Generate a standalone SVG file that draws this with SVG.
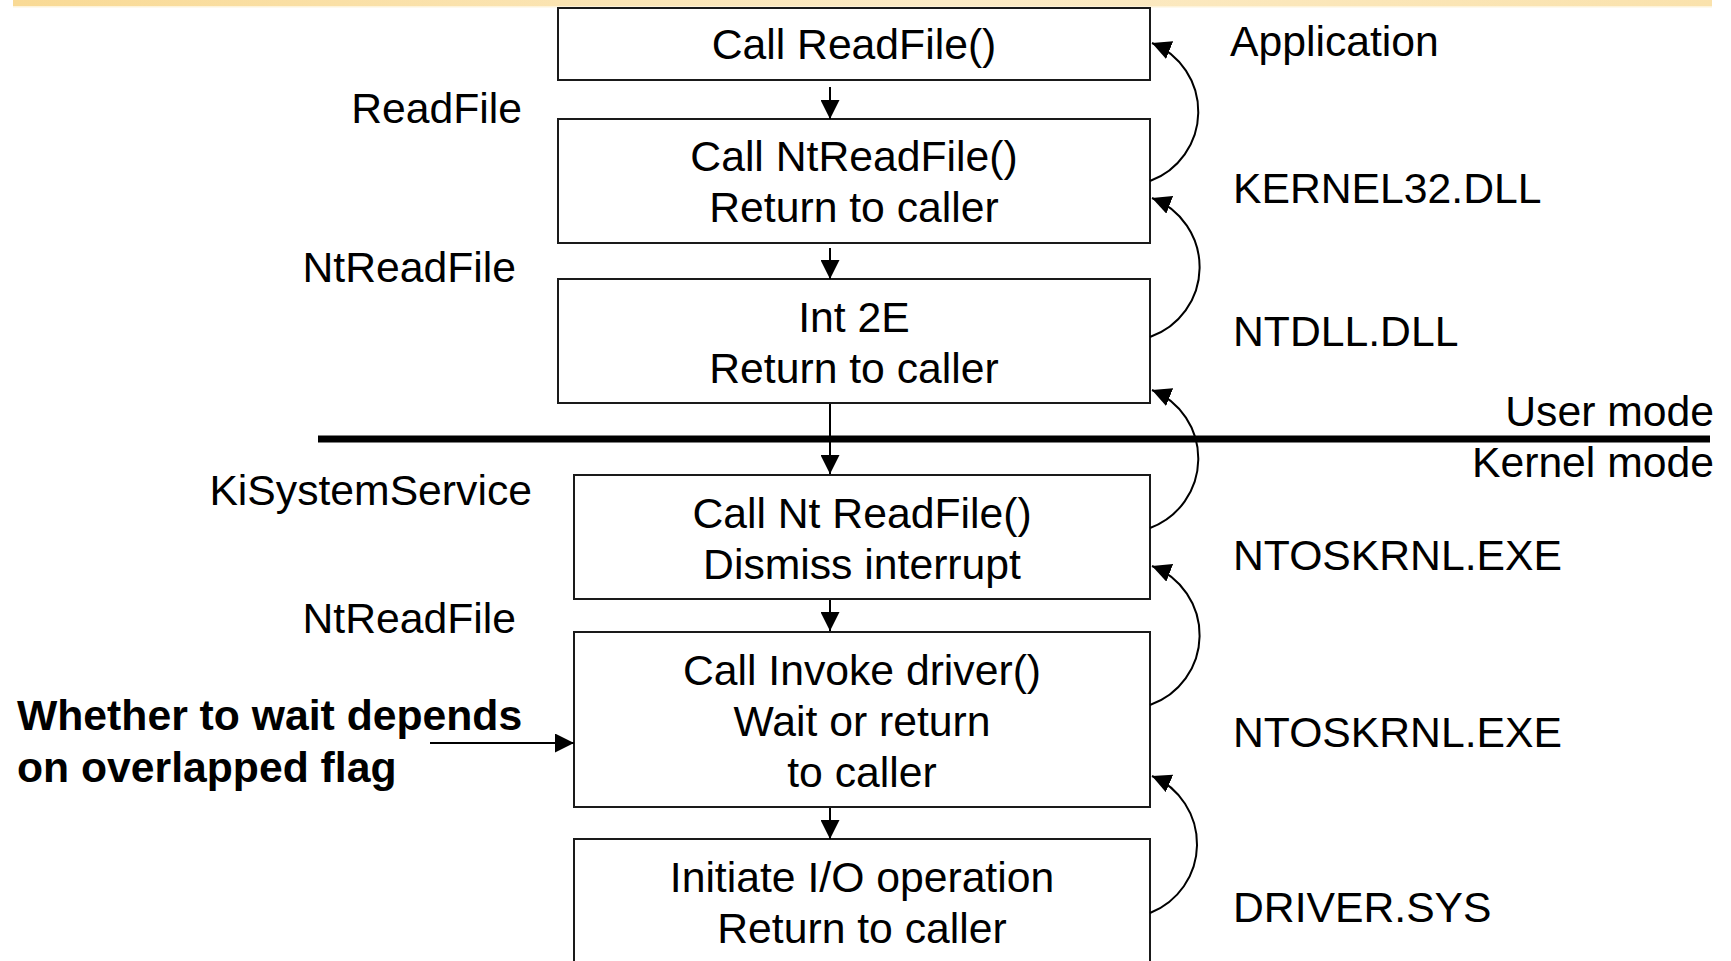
<svg xmlns="http://www.w3.org/2000/svg" width="1731" height="961" viewBox="0 0 1731 961">
  <style>
    text { font-family: "Liberation Sans", Arial, sans-serif; font-size: 42.7px; fill: #000; }
    .c { text-anchor: middle; }
    .r { text-anchor: end; }
    .b { font-weight: bold; }
    .box { fill: #fff; stroke: #1a1a1a; stroke-width: 2; }
    .link { fill: none; stroke: #000; stroke-width: 2; }
  </style>
  <defs>
    <linearGradient id="band" x1="0" y1="0" x2="1" y2="0">
      <stop offset="0" stop-color="#F9DA95"/>
      <stop offset="0.55" stop-color="#FCEBC6"/>
      <stop offset="1" stop-color="#FAE2AC"/>
    </linearGradient>
    <marker id="head" markerUnits="userSpaceOnUse" viewBox="0 0 19 19" markerWidth="19" markerHeight="19" refX="19" refY="9.5" orient="auto">
      <path d="M0,0 L19,9.5 L0,19 z" fill="#000"/>
    </marker>
  </defs>

  <rect width="1731" height="961" fill="#fff"/>

  <!-- title band -->
  <rect x="13" y="0" width="1699" height="7" fill="url(#band)"/>
  <rect x="13" y="6" width="1699" height="1.5" fill="#FDF3DA"/>

  <!-- user/kernel boundary -->
  <g id="boundary">
    <line x1="318" y1="439" x2="1710" y2="439" stroke="#000" stroke-width="7"/>
    <text class="r" x="1714" y="426">User mode</text>
    <text class="r" x="1714" y="477">Kernel mode</text>
  </g>

  <!-- call chain boxes -->
  <g id="call-readfile">
    <rect class="box" x="558" y="8" width="592" height="72"/>
    <text class="c" x="854" y="59">Call ReadFile()</text>
  </g>
  <g id="call-ntreadfile">
    <rect class="box" x="558" y="119" width="592" height="124"/>
    <text class="c" x="854" y="171">Call NtReadFile()</text>
    <text class="c" x="854" y="222">Return to caller</text>
  </g>
  <g id="int-2e">
    <rect class="box" x="558" y="279" width="592" height="124"/>
    <text class="c" x="854" y="332">Int 2E</text>
    <text class="c" x="854" y="383">Return to caller</text>
  </g>
  <g id="kisystemservice">
    <rect class="box" x="574" y="475" width="576" height="124"/>
    <text class="c" x="862" y="528">Call Nt ReadFile()</text>
    <text class="c" x="862" y="579">Dismiss interrupt</text>
  </g>
  <g id="nt-readfile">
    <rect class="box" x="574" y="632" width="576" height="175"/>
    <text class="c" x="862" y="685">Call Invoke driver()</text>
    <text class="c" x="862" y="736">Wait or return</text>
    <text class="c" x="862" y="787">to caller</text>
  </g>
  <g id="driver">
    <rect class="box" x="574" y="839" width="576" height="124"/>
    <text class="c" x="862" y="892">Initiate I/O operation</text>
    <text class="c" x="862" y="943">Return to caller</text>
  </g>

  <!-- routine names -->
  <g id="routine-labels">
    <text class="r" x="522" y="123">ReadFile</text>
    <text class="r" x="516" y="282">NtReadFile</text>
    <text class="r" x="532" y="505">KiSystemService</text>
    <text class="r" x="516" y="633">NtReadFile</text>
  </g>

  <!-- module names -->
  <g id="module-labels">
    <text x="1230" y="56">Application</text>
    <text x="1233" y="203">KERNEL32.DLL</text>
    <text x="1233" y="346">NTDLL.DLL</text>
    <text x="1233" y="570">NTOSKRNL.EXE</text>
    <text x="1233" y="747">NTOSKRNL.EXE</text>
    <text x="1233" y="922">DRIVER.SYS</text>
  </g>

  <g id="note">
    <text class="b" x="17" y="730">Whether to wait depends</text>
    <text class="b" x="17" y="782">on overlapped flag</text>
  </g>

  <!-- connectors -->
  <g id="connectors">
    <!-- calls going down -->
    <line class="link" x1="830" y1="87" x2="830" y2="119" marker-end="url(#head)"/>
    <line class="link" x1="830" y1="248" x2="830" y2="279" marker-end="url(#head)"/>
    <line class="link" x1="830" y1="404" x2="830" y2="474" marker-end="url(#head)"/>
    <line class="link" x1="830" y1="600" x2="830" y2="631" marker-end="url(#head)"/>
    <line class="link" x1="830" y1="808" x2="830" y2="839" marker-end="url(#head)"/>
    <!-- overlapped flag note -->
    <line class="link" x1="430" y1="743" x2="574" y2="743" marker-end="url(#head)"/>
    <!-- returns going up -->
    <path class="link" d="M1150,181 A74,74 0 0 0 1152,43" marker-end="url(#head)"/>
    <path class="link" d="M1150,337 A74,74 0 0 0 1152,198" marker-end="url(#head)"/>
    <path class="link" d="M1150,528 A74,74 0 0 0 1152,390" marker-end="url(#head)"/>
    <path class="link" d="M1150,705 A74,74 0 0 0 1152,566" marker-end="url(#head)"/>
    <path class="link" d="M1150,913 A74,74 0 0 0 1152,776" marker-end="url(#head)"/>
  </g>
</svg>
